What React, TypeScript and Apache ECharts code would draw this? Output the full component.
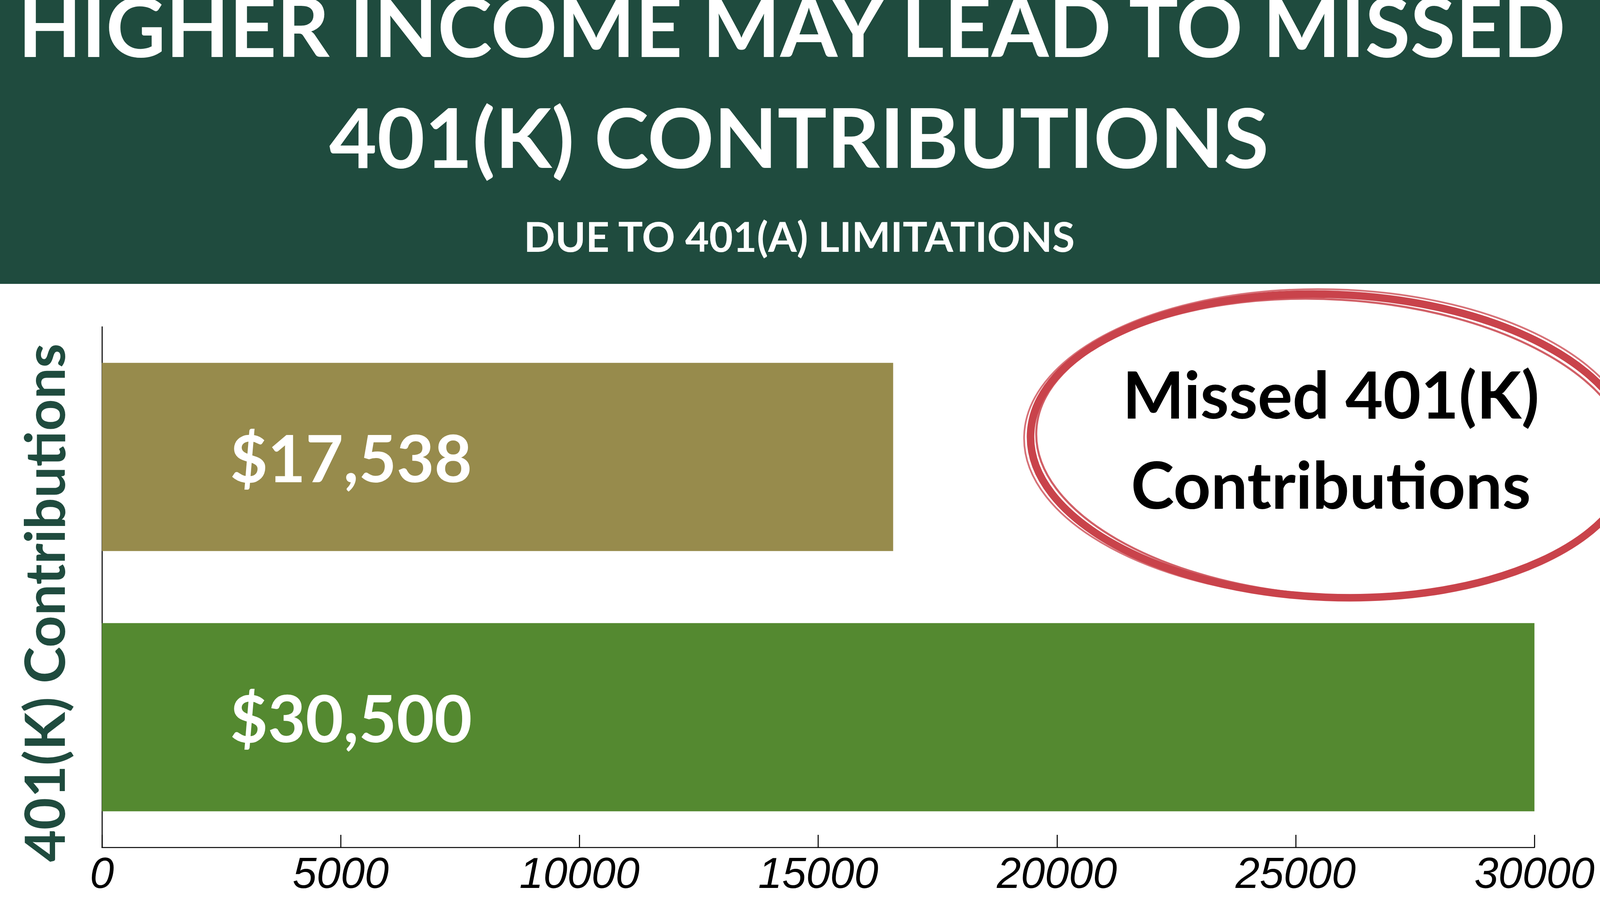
import React, { useEffect, useRef } from "react";
import * as echarts from "echarts";

// chart data
const categories = ["Missed", "Limit"];
const barValues = [16570, 30000];
const barLabels = ["$17,538", "$30,500"];
const barColors = ["#978b4c", "#548930"];
const xMax = 30000;
const xInterval = 5000;

// texts
const titleLines = ["HIGHER INCOME MAY LEAD TO MISSED", "401(K) CONTRIBUTIONS"];
const subtitle = "DUE TO 401(A) LIMITATIONS";
const calloutLines = ["Missed 401(K)", "Contributions"];
const axisName = "401(K) Contributions";

const DARK_GREEN = "#1f4b3e";
const RED = "#c9434b";

// design size of the original picture, everything is laid out relative to it
const REF_W = 4662;
const REF_H = 2351;

const App = () => {
  const chartRef = useRef<HTMLDivElement | null>(null);

  useEffect(() => {
    if (!chartRef.current) return;
    const chart = echarts.init(chartRef.current, null, { renderer: "svg" });
    const W = chart.getWidth();
    const H = chart.getHeight();
    const sx = W / REF_W;
    const sy = H / REF_H;
    const fs = Math.min(sx, sy);
    const px = (v: number) => v * sx;
    const py = (v: number) => v * sy;

    // hand-drawn look: a few overlapping ellipse strokes
    const ellipse = (cx: number, cy: number, rx: number, ry: number, rot: number, lw: number, op: number) => ({
      type: "ellipse",
      shape: { cx: 0, cy: 0, rx: px(rx), ry: py(ry) },
      x: px(cx),
      y: py(cy),
      rotation: rot,
      style: { fill: "none", stroke: RED, lineWidth: lw * fs, opacity: op },
      z: 10,
    });

    const headerText = (text: string, x: number, y: number, size: number) => ({
      type: "text",
      x: px(x),
      y: py(y),
      style: {
        text,
        fill: "#fff",
        fontFamily: "Lato",
        fontWeight: "bold",
        fontSize: size * fs,
        align: "center",
        verticalAlign: "middle",
      },
      z: 2,
    });

    const calloutText = (text: string, y: number) => ({
      type: "text",
      x: px(3878),
      y: py(y),
      style: {
        text,
        fill: "#000",
        fontFamily: "Lato",
        fontWeight: "bold",
        fontSize: 190 * fs,
        align: "center",
        verticalAlign: "middle",
      },
      z: 11,
    });

    const options = {
      animation: false,
      backgroundColor: "#ffffff",
      grid: { left: px(297), right: px(191), top: py(837), bottom: py(181) },
      xAxis: {
        type: "value",
        min: 0,
        max: xMax,
        interval: xInterval,
        splitLine: { show: false },
        axisLine: { show: true, lineStyle: { color: "#000", width: 3 * fs } },
        axisTick: { show: true, inside: true, length: py(32), lineStyle: { color: "#000", width: 3 * fs } },
        axisLabel: {
          color: "#000",
          fontFamily: "Liberation Sans",
          fontStyle: "italic",
          fontSize: 126 * fs,
          margin: 10 * sy,
          formatter: (v: number) => String(v),
        },
      },
      yAxis: {
        type: "category",
        data: categories,
        inverse: true,
        axisLine: { show: true, lineStyle: { color: "#000", width: 3 * fs } },
        axisTick: { show: false },
        axisLabel: { show: false },
        name: axisName,
        nameLocation: "middle",
        nameGap: px(90),
        nameTextStyle: {
          color: DARK_GREEN,
          fontFamily: "Lato",
          fontWeight: "bold",
          fontSize: 142 * sy,
          padding: [0, py(80), 0, 0],
        },
      },
      series: [
        {
          type: "bar",
          barWidth: py(482),
          data: barValues.map((v, i) => ({ value: v, itemStyle: { color: barColors[i] } })),
          label: {
            show: true,
            position: [px(373), "50%"],
            verticalAlign: "middle",
            align: "left",
            color: "#fff",
            fontFamily: "Lato",
            fontWeight: "bold",
            fontSize: 190 * fs,
            formatter: (p: any) => barLabels[p.dataIndex],
          },
        },
      ],
      graphic: [
        {
          type: "rect",
          shape: { x: 0, y: 0, width: W, height: py(727) },
          style: { fill: DARK_GREEN },
          z: 1,
        },
        headerText(titleLines[0], 2307, 64, 240),
        headerText(titleLines[1], 2328, 348, 240),
        headerText(subtitle, 2329, 604, 120),
        ellipse(3880, 1142, 878, 388, -0.04, 22, 1),
        ellipse(3884, 1146, 866, 379, -0.06, 6, 0.85),
        ellipse(3874, 1137, 890, 396, -0.025, 5, 0.75),
        calloutText(calloutLines[0], 1007),
        calloutText(calloutLines[1], 1238),
      ],
    };

    chart.setOption(options);
    return () => {
      chart.dispose();
    };
  }, []);

  return (
    <div
      ref={chartRef}
      style={{ position: "fixed", left: 0, top: 0, width: "100vw", height: "100vh" }}
    ></div>
  );
};

export default App;
